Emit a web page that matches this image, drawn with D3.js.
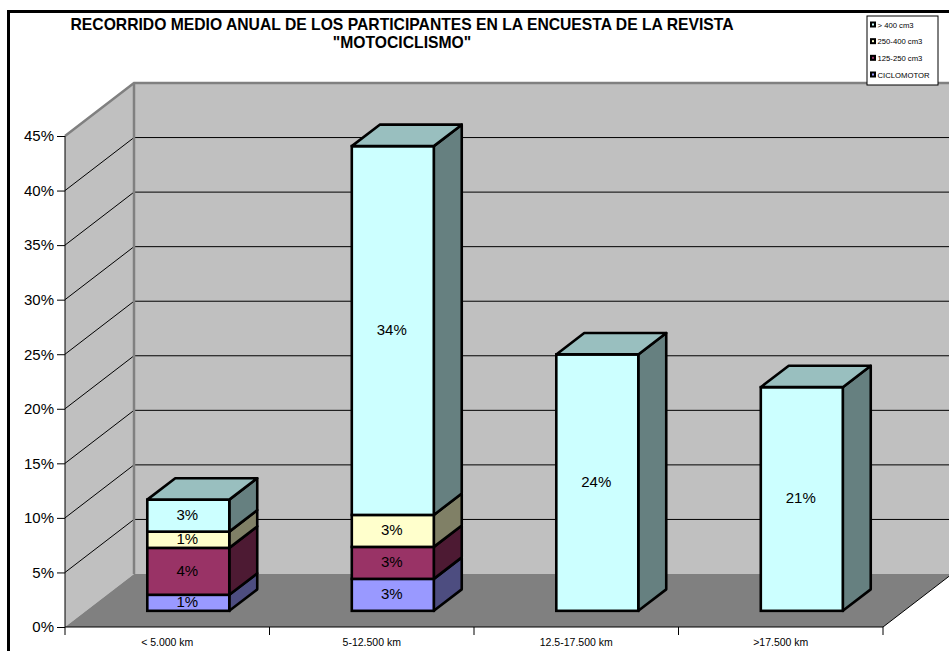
<!DOCTYPE html>
<html><head><meta charset="utf-8">
<script src="https://cdn.jsdelivr.net/npm/d3@7"></script>
<style>html,body{margin:0;padding:0;background:#fff}svg{display:block}text{font-family:"Liberation Sans",Arial,sans-serif;fill:#000}</style>
</head><body><svg id="c" width="949" height="651"></svg>
<script>
const categories = ["< 5.000 km","5-12.500 km","12.5-17.500 km",">17.500 km"];
const seriesNames = ["CICLOMOTOR","125-250 cm3","250-400 cm3","> 400 cm3"];
const ciclomotor = [1.47,2.93,0,0];
const cc125 = [4.3,2.93,0,0];
const cc250 = [1.49,2.93,0,0];
const cc400 = [2.93,33.8,23.5,20.5];
const seriesValues = [ciclomotor,cc125,cc250,cc400];
const frontColors = ["#9999ff","#993366","#ffffcc","#ccffff"];
const sideColors = ["#4d4d80","#4d1a33","#808066","#668080"];
const topColor = "#99bfbf";
const yTicks = [0,5,10,15,20,25,30,35,40,45];
const titleLines = ["RECORRIDO MEDIO ANUAL DE LOS PARTICIPANTES EN LA ENCUESTA DE LA REVISTA","\"MOTOCICLISMO\""];

const svg = d3.select("#c");
const x = d3.scaleBand().domain(categories).range([65,883]);
const y = d3.scaleLinear().domain([0,45]).range([627,136]);
const depthX = d3.scaleLinear().domain([0,1]).range([0,69]);
const depthY = d3.scaleLinear().domain([0,1]).range([0,-53]);
const ddx = depthX(1), ddy = depthY(1);
const barWidth = 82;
const barStart = [depthX(0.305), depthY(0.305)], barEnd = [depthX(0.71), depthY(0.71)];
const line = d3.line();
const x0=x.range()[0], x1=x.range()[1], y0=y(0), yT=y(45);

// frame
svg.append("line").attr("x1",7).attr("x2",949).attr("y1",11.5).attr("y2",11.5).attr("stroke","#000").attr("stroke-width",3);
svg.append("line").attr("x1",8.5).attr("x2",8.5).attr("y1",10).attr("y2",651).attr("stroke","#000").attr("stroke-width",3);

// walls and floor
svg.append("path").attr("d",line([[x0+ddx,yT+ddy],[x1+ddx,yT+ddy],[x1+ddx,y0+ddy],[x0+ddx,y0+ddy]])+"Z").attr("fill","#c0c0c0");
svg.append("path").attr("d",line([[x0,yT],[x0+ddx,yT+ddy],[x0+ddx,y0+ddy],[x0,y0]])+"Z").attr("fill","#c0c0c0");
svg.append("path").attr("d",line([[x0,y0],[x0+ddx,y0+ddy],[x1+ddx,y0+ddy],[x1,y0]])+"Z").attr("fill","#808080");

// gridlines
yTicks.filter(t=>t>0&&t<45).forEach(t=>{
  svg.append("path").attr("fill","none").attr("stroke","#000").attr("stroke-width",1)
    .attr("d",line([[x0,y(t)],[x0+ddx,y(t)+ddy],[x1+ddx,y(t)+ddy]]));
});
// wall edges
svg.append("path").attr("fill","none").attr("stroke","#808080").attr("stroke-width",2.5)
  .attr("d",line([[x0,yT],[x0+ddx,yT+ddy],[x1+ddx,yT+ddy]]));
svg.append("line").attr("x1",x0+ddx).attr("x2",x0+ddx).attr("y1",yT+ddy).attr("y2",y0+ddy).attr("stroke","#808080").attr("stroke-width",2.5);

// axes
svg.append("path").attr("fill","none").attr("stroke","#000").attr("stroke-width",1)
  .attr("d",line([[x0,yT],[x0,y0],[x1,y0],[x1+ddx,y0+ddy]]));
const yAxisG = svg.append("g").attr("transform",`translate(${x0},0)`)
  .call(d3.axisLeft(y).tickValues(yTicks).tickSize(8).tickPadding(3).tickFormat(d=>d+"%"));
yAxisG.select(".domain").remove();
yAxisG.selectAll("text").attr("font-size",15).attr("font-family","Liberation Sans");
const xAxisG = svg.append("g").attr("transform",`translate(0,${y0})`)
  .call(d3.axisBottom(x).tickSize(0).tickPadding(12));
xAxisG.select(".domain").remove();
xAxisG.selectAll("text").attr("font-size",10.5).attr("font-family","Liberation Sans");
[...categories.map(c=>x(c)),x1].forEach(v=>{
  svg.append("line").attr("x1",v).attr("x2",v).attr("y1",y0).attr("y2",y0+8).attr("stroke","#000");
});

// bars
categories.forEach((c,i)=>{
  const fx = x(c)+x.bandwidth()/2-barWidth/2+barStart[0];
  const oy = barStart[1];
  const dx = barEnd[0]-barStart[0], dy = barEnd[1]-barStart[1];
  const g = svg.append("g");
  let acc = 0, lastTop = 0;
  const labels = [];
  seriesValues.forEach((vals,s)=>{
    const v = vals[i];
    if(!v) return;
    const yb = y(acc)+oy, yt = y(acc+v)+oy;
    g.append("path").attr("d",line([[fx+barWidth,yb],[fx+barWidth+dx,yb+dy],[fx+barWidth+dx,yt+dy],[fx+barWidth,yt]])+"Z")
      .attr("fill",sideColors[s]).attr("stroke","#000").attr("stroke-width",2.6).attr("stroke-linejoin","round");
    g.append("rect").attr("x",fx).attr("y",yt).attr("width",barWidth).attr("height",yb-yt)
      .attr("fill",frontColors[s]).attr("stroke","#000").attr("stroke-width",2.6);
    labels.push({v,ym:(yb+yt)/2});
    acc += v; lastTop = yt;
  });
  g.append("path").attr("d",line([[fx,lastTop],[fx+dx,lastTop+dy],[fx+barWidth+dx,lastTop+dy],[fx+barWidth,lastTop]])+"Z")
    .attr("fill",topColor).attr("stroke","#000").attr("stroke-width",2.6).attr("stroke-linejoin","round");
  labels.forEach(l=>{
    g.append("text").attr("x",fx+barWidth/2-1).attr("y",l.ym+4.5).attr("text-anchor","middle").attr("font-size",15)
      .text(d3.format(".0f")(l.v)+"%");
  });
});

// title
svg.append("g").selectAll("text").data(titleLines).join("text")
  .attr("x",402).attr("y",(d,i)=>30+i*18).attr("text-anchor","middle").attr("font-size",15.7).attr("font-weight","bold").text(d=>d);

// legend
const lg = svg.append("g").attr("transform","translate(867,16)");
lg.append("rect").attr("x",0).attr("y",0).attr("width",71).attr("height",69).attr("fill","#fff").attr("stroke","#000").attr("stroke-width",1);
const legendOrder = seriesNames.map((n,i)=>({n,c:frontColors[i]})).reverse();
const ly = d3.scalePoint().domain(legendOrder.map(d=>d.n)).range([8.5,58.5]);
legendOrder.forEach(d=>{
  lg.append("rect").attr("x",3).attr("y",ly(d.n)-3).attr("width",6).attr("height",6).attr("fill","#000");
  lg.append("rect").attr("x",5).attr("y",ly(d.n)-1).attr("width",2).attr("height",2).attr("fill",d.c);
  lg.append("text").attr("x",10.5).attr("y",ly(d.n)+3).attr("font-size",7.7).text(d.n);
});
</script></body></html>
